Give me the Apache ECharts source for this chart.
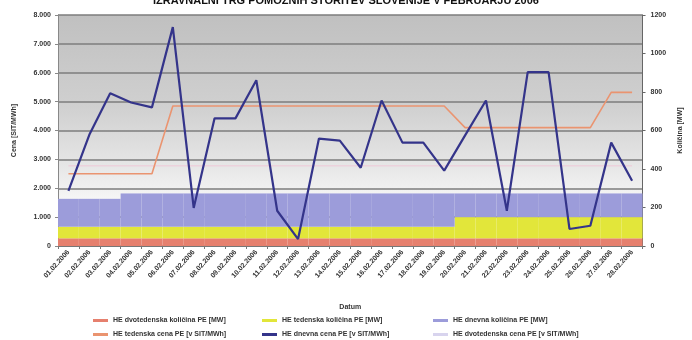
<!DOCTYPE html>
<html>
<head>
<meta charset="utf-8">
<script src="https://cdn.jsdelivr.net/npm/echarts@6/dist/echarts.min.js"></script>
<style>
  html, body { margin: 0; padding: 0; background: #ffffff; }
  #chart { width: 692px; height: 340px; }
</style>
</head>
<body>
<div id="chart"></div>
<script>
// Days of February 2006
var dates = [
  '01.02.2006','02.02.2006','03.02.2006','04.02.2006','05.02.2006','06.02.2006','07.02.2006',
  '08.02.2006','09.02.2006','10.02.2006','11.02.2006','12.02.2006','13.02.2006','14.02.2006',
  '15.02.2006','16.02.2006','17.02.2006','18.02.2006','19.02.2006','20.02.2006','21.02.2006',
  '22.02.2006','23.02.2006','24.02.2006','25.02.2006','26.02.2006','27.02.2006','28.02.2006'
];

// Quantities [MW] (right axis), stacked
var qtyBiweekly = [40,40,40,40,40,40,40,40,40,40,40,40,40,40,40,40,40,40,40,40,40,40,40,40,40,40,40,40];
var qtyWeekly   = [60,60,60,60,60,60,60,60,60,60,60,60,60,60,60,60,60,60,60,110,110,110,110,110,110,110,110,110];
var qtyDaily    = [145,145,145,173,173,173,173,173,173,173,173,173,173,173,173,173,173,173,173,123,123,123,123,123,123,123,123,123];

// Prices [SIT/MWh] (left axis)
var priceWeekly   = [2500,2500,2500,2500,2500,4850,4850,4850,4850,4850,4850,4850,4850,4850,4850,4850,4850,4850,4850,4100,4100,4100,4100,4100,4100,4100,5320,5320];
var priceDaily    = [1910,3850,5290,4970,4800,7580,1320,4420,4420,5740,1220,240,3720,3650,2710,5040,3580,3580,2610,3830,5040,1220,6020,6020,590,700,3580,2260];
var priceBiweekly = [2780,2780,2780,2780,2780,2780,2780,2780,2780,2780,2780,2780,2780,2780,2780,2780,2780,2780,2780,2780,2780,2780,2780,2780,2780,2780,2780,2780];

// Axis tick labels
var leftTicks  = ['0','1.000','2.000','3.000','4.000','5.000','6.000','7.000','8.000'];
var rightTicks = ['0','200','400','600','800','1000','1200'];

var names = {
  qB: 'HE dvotedenska količina PE [MW]',
  qW: 'HE tedenska količina PE [MW]',
  qD: 'HE dnevna količina PE [MW]',
  pW: 'HE tedenska cena PE [v SIT/MWh]',
  pD: 'HE dnevna cena PE [v SIT/MWh]',
  pB: 'HE dvotedenska cena PE [v SIT/MWh]'
};

var FONT = '"Liberation Sans", Arial, sans-serif';
var txt = { fontFamily: FONT, fontSize: 7, fontWeight: 'bold', color: '#333' };

var chart = echarts.init(document.getElementById('chart'), null, { renderer: 'canvas' });

// One legend column: bar swatch on top, price line below
function legendCol(left, items) {
  return {
    orient: 'vertical', left: left, top: 316, height: 24, padding: 0, itemGap: 5,
    itemWidth: 15, itemHeight: 3, icon: 'rect',
    textStyle: Object.assign({ lineHeight: 9 }, txt), data: items, selectedMode: false
  };
}

chart.setOption({
  animation: false,
  backgroundColor: '#ffffff',
  title: {
    text: 'IZRAVNALNI TRG POMOŽNIH STORITEV SLOVENIJE V FEBRUARJU 2006',
    left: 'center', top: -10,
    textStyle: { fontFamily: FONT, fontSize: 11, fontWeight: 'bold', color: '#111' }
  },
  grid: {
    left: 58, right: 49, top: 15, height: 231,
    show: true, borderWidth: 0,
    backgroundColor: new echarts.graphic.LinearGradient(0, 0, 0, 1, [
      { offset: 0, color: '#c0c0c0' },
      { offset: 0.4, color: '#d0d0d0' },
      { offset: 0.65, color: '#e6e6e6' },
      { offset: 0.8, color: '#f6f6f6' },
      { offset: 1, color: '#ffffff' }
    ])
  },
  legend: [
    legendCol(93,  [names.qB, names.pW]),
    legendCol(262, [names.qW, names.pD]),
    legendCol(433, [names.qD, names.pB])
  ],
  xAxis: {
    type: 'category', data: dates, boundaryGap: true,
    name: 'Datum', nameLocation: 'middle', nameGap: 58,
    nameTextStyle: { fontFamily: FONT, fontSize: 7, fontWeight: 'bold', color: '#333' },
    axisLine: { lineStyle: { color: '#777', width: 1 } },
    axisTick: { show: true, interval: 0, length: 3, lineStyle: { color: '#777' } },
    axisLabel: Object.assign({ interval: 0, rotate: 48, margin: 5 }, txt)
  },
  yAxis: [
    {
      type: 'value', min: 0, max: 8000, interval: 1000,
      name: 'Cena [SIT/MWh]', nameLocation: 'middle', nameGap: 40, nameRotate: 90,
      nameTextStyle: { fontFamily: FONT, fontSize: 7, fontWeight: 'bold', color: '#333' },
      axisLine: { show: true, lineStyle: { color: '#888' } },
      axisTick: { show: true, length: 3, lineStyle: { color: '#888' } },
      axisLabel: Object.assign({ margin: 7, formatter: function (v) { return leftTicks[v / 1000]; } }, txt),
      splitLine: { show: true, lineStyle: { color: '#7c7c7c', width: 1.5 } }
    },
    {
      type: 'value', min: 0, max: 1200, interval: 200,
      name: 'Količina [MW]', nameLocation: 'middle', nameGap: 30, nameRotate: 90,
      nameTextStyle: { fontFamily: FONT, fontSize: 7, fontWeight: 'bold', color: '#333' },
      axisLine: { show: true, lineStyle: { color: '#666' } },
      axisTick: { show: true, length: 3, lineStyle: { color: '#666' } },
      axisLabel: Object.assign({ margin: 8, formatter: function (v) { return rightTicks[v / 200]; } }, txt),
      splitLine: { show: false }
    }
  ],
  series: [
    { name: names.qB, type: 'bar', stack: 'q', yAxisIndex: 1, barCategoryGap: '0%', data: qtyBiweekly,
      itemStyle: { color: '#e6806e' }, z: 2 },
    { name: names.qW, type: 'bar', stack: 'q', yAxisIndex: 1, barCategoryGap: '0%', data: qtyWeekly,
      itemStyle: { color: '#e2e63a' }, z: 2 },
    { name: names.qD, type: 'bar', stack: 'q', yAxisIndex: 1, barCategoryGap: '0%', data: qtyDaily,
      itemStyle: { color: '#9c9cda' }, z: 2 },
    { name: names.pW, type: 'line', yAxisIndex: 0, data: priceWeekly, symbol: 'none',
      lineStyle: { color: '#ea9470', width: 1.6 }, itemStyle: { color: '#ea9470' }, z: 4 },
    { name: names.pB, type: 'line', yAxisIndex: 0, data: priceBiweekly, symbol: 'none',
      lineStyle: { color: '#ecd2dc', width: 1.6 }, itemStyle: { color: '#d8d4ee' }, z: 3 },
    { name: names.pD, type: 'line', yAxisIndex: 0, data: priceDaily, symbol: 'none',
      lineStyle: { color: '#34348a', width: 2.2 }, itemStyle: { color: '#34348a' }, z: 5 }
  ]
});
</script>
</body>
</html>
